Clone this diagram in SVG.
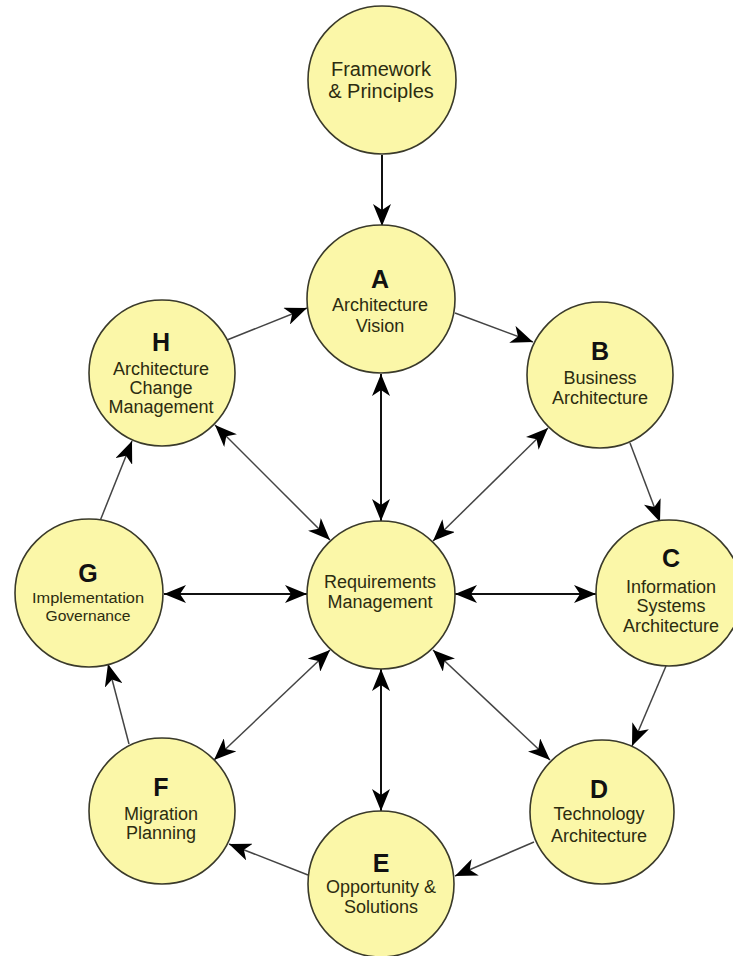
<svg xmlns="http://www.w3.org/2000/svg" width="733" height="956" viewBox="0 0 733 956">
<defs>
<style>
.node circle{fill:#FBF7A8;stroke:#3a3a2a;stroke-width:1.6}
.t{font-family:"Liberation Sans",Arial,sans-serif;font-size:18px;fill:#2c2c10;text-anchor:middle}
.L{font-family:"Liberation Sans",Arial,sans-serif;font-size:25px;font-weight:bold;fill:#111;text-anchor:middle}
.g{font-size:14px}
.main{stroke:#111;stroke-width:2;fill:none}
.thin{stroke:#444;stroke-width:1.5;fill:none}
</style>
<marker id="ah" viewBox="0 0 22 18" refX="22" refY="9" markerWidth="22" markerHeight="18" markerUnits="userSpaceOnUse" orient="auto-start-reverse">
<path d="M0,0 L22,9 L0,18 L6,9 Z" fill="#000"/>
</marker>
</defs>
<rect width="733" height="956" fill="#fff"/>
<g id="connectors">
<line class="main" x1="382" y1="155" x2="382" y2="226" marker-end="url(#ah)"/>
<line class="main" x1="381" y1="374" x2="381" y2="521" marker-start="url(#ah)" marker-end="url(#ah)"/>
<line class="main" x1="164" y1="594" x2="307" y2="594" marker-start="url(#ah)" marker-end="url(#ah)"/>
<line class="main" x1="455" y1="594" x2="596" y2="594" marker-start="url(#ah)" marker-end="url(#ah)"/>
<line class="main" x1="381" y1="669" x2="381" y2="811" marker-start="url(#ah)" marker-end="url(#ah)"/>
<line class="thin" x1="215" y1="425" x2="330" y2="540" marker-start="url(#ah)" marker-end="url(#ah)"/>
<line class="thin" x1="548" y1="428" x2="433" y2="541" marker-start="url(#ah)" marker-end="url(#ah)"/>
<line class="thin" x1="330" y1="650" x2="214" y2="760" marker-start="url(#ah)" marker-end="url(#ah)"/>
<line class="thin" x1="433" y1="650" x2="550" y2="760" marker-start="url(#ah)" marker-end="url(#ah)"/>
<line class="thin" x1="227" y1="340" x2="307" y2="308" marker-end="url(#ah)"/>
<line class="thin" x1="455" y1="313" x2="533" y2="342" marker-end="url(#ah)"/>
<line class="thin" x1="630" y1="443" x2="660" y2="522" marker-end="url(#ah)"/>
<line class="thin" x1="666" y1="666" x2="632" y2="746" marker-end="url(#ah)"/>
<line class="thin" x1="534" y1="842" x2="455" y2="876" marker-end="url(#ah)"/>
<line class="thin" x1="308" y1="875" x2="229" y2="844" marker-end="url(#ah)"/>
<line class="thin" x1="129" y1="744" x2="108" y2="664" marker-end="url(#ah)"/>
<line class="thin" x1="100" y1="521" x2="132" y2="441" marker-end="url(#ah)"/>
</g>
<g id="framework" class="node">
<circle cx="382" cy="80" r="74"/>
<text class="t" x="381" y="76" style="font-size:20px">Framework</text>
<text class="t" x="381" y="98" style="font-size:20px">&amp; Principles</text>
</g>
<g id="nodeA" class="node">
<circle cx="381" cy="299" r="74"/>
<text class="L" x="380" y="288">A</text>
<text class="t" x="380" y="311">Architecture</text>
<text class="t" x="380" y="332">Vision</text>
</g>
<g id="nodeH" class="node">
<circle cx="162" cy="373" r="73"/>
<text class="L" x="161" y="351">H</text>
<text class="t" x="161" y="375">Architecture</text>
<text class="t" x="161" y="394">Change</text>
<text class="t" x="161" y="413">Management</text>
</g>
<g id="nodeB" class="node">
<circle cx="600" cy="375" r="73"/>
<text class="L" x="600" y="360">B</text>
<text class="t" x="600" y="384">Business</text>
<text class="t" x="600" y="404">Architecture</text>
</g>
<g id="nodeC" class="node">
<circle cx="669" cy="593" r="73"/>
<text class="L" x="671" y="567">C</text>
<text class="t" x="671" y="593">Information</text>
<text class="t" x="671" y="612">Systems</text>
<text class="t" x="671" y="632">Architecture</text>
</g>
<g id="nodeG" class="node">
<circle cx="89" cy="593" r="74"/>
<text class="L" x="88" y="582">G</text>
<text class="t g" x="88" y="603" textLength="112" lengthAdjust="spacingAndGlyphs">Implementation</text>
<text class="t g" x="88" y="621" textLength="85" lengthAdjust="spacingAndGlyphs">Governance</text>
</g>
<g id="requirements" class="node">
<circle cx="381" cy="595" r="74"/>
<text class="t" x="380" y="588">Requirements</text>
<text class="t" x="380" y="608">Management</text>
</g>
<g id="nodeF" class="node">
<circle cx="162" cy="811" r="73"/>
<text class="L" x="161" y="796">F</text>
<text class="t" x="161" y="820">Migration</text>
<text class="t" x="161" y="839">Planning</text>
</g>
<g id="nodeE" class="node">
<circle cx="381" cy="884" r="73"/>
<text class="L" x="381" y="872">E</text>
<text class="t" x="381" y="893">Opportunity &amp;</text>
<text class="t" x="381" y="913">Solutions</text>
</g>
<g id="nodeD" class="node">
<circle cx="602" cy="812" r="72"/>
<text class="L" x="599" y="798">D</text>
<text class="t" x="599" y="820">Technology</text>
<text class="t" x="599" y="842">Architecture</text>
</g>
</svg>
